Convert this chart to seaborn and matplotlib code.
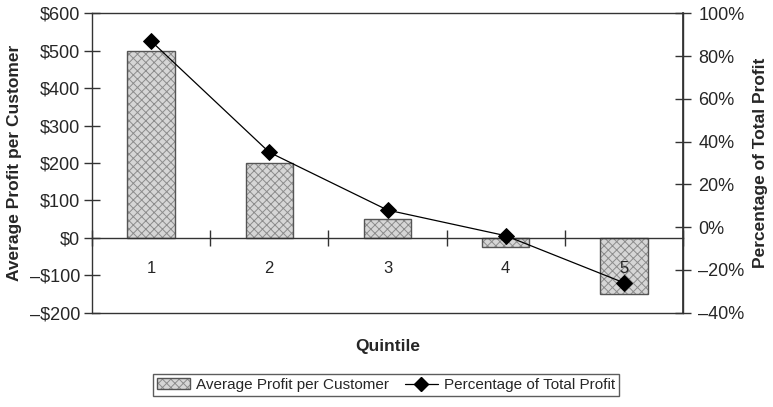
import numpy as np
import matplotlib
matplotlib.use("Agg")
import matplotlib.pyplot as plt
import seaborn as sns
from matplotlib.patches import Patch
from matplotlib.lines import Line2D
from matplotlib.colors import to_rgba
from matplotlib.ticker import FuncFormatter, FixedLocator

# Chart data
quintiles = ["1", "2", "3", "4", "5"]
avg_profit = [500, 200, 50, -25, -150]
pct_total_profit = [87, 35, 8, -4, -26]

sns.set_theme(style="white")
plt.rcParams["font.family"] = ["Liberation Sans", "DejaVu Sans"]
plt.rcParams["hatch.linewidth"] = 0.7

frame_color = "#333333"
bar_face = "#d6d6d6"
bar_edge = "#555555"
hatch_color = "#8c8c8c"
tick_fs = 13


def set_hatch(p):
    p.set_hatch("xxxx")
    try:
        p.set_hatchcolor(hatch_color)
    except AttributeError:
        p._hatch_color = to_rgba(hatch_color)


fig = plt.figure(figsize=(7.73, 4.07), dpi=100)
ax = fig.add_axes([92 / 773, 1 - 312.7 / 407, (683 - 92) / 773, (312.7 - 13.3) / 407])
ax.set_axisbelow(False)

sns.barplot(x=quintiles, y=avg_profit, ax=ax, color=bar_face, width=0.4,
            edgecolor=bar_edge, linewidth=1.0, saturation=1)
for p in ax.patches:
    set_hatch(p)

ax.set_ylim(-200, 600)
ax.set_yticks(np.arange(-200, 601, 100))
ax.yaxis.set_major_formatter(FuncFormatter(
    lambda v, _: ("\u2013$%d" % abs(v)) if v < 0 else "$%d" % v))
ax.tick_params(axis="y", direction="inout", length=11, width=1, color=frame_color,
               labelsize=tick_fs, pad=3, left=True)

# category axis crosses at zero
ax.spines["bottom"].set_position(("data", 0))
for s in ax.spines.values():
    s.set_color(frame_color)
    s.set_linewidth(1.0)
ax.plot([0, 1], [0, 0], transform=ax.transAxes, color=frame_color, lw=1.0, clip_on=False)

ax.xaxis.set_major_locator(FixedLocator(np.arange(-0.5, len(quintiles), 1.0)))
ax.xaxis.set_minor_locator(FixedLocator(np.arange(len(quintiles))))
ax.set_xticklabels([""] * (len(quintiles) + 1))
ax.set_xticklabels(quintiles, minor=True)
ax.tick_params(axis="x", which="major", direction="inout", length=11, width=1,
               color=frame_color, bottom=True)
ax.tick_params(axis="x", which="minor", length=0, pad=17, labelsize=12, bottom=True)
ax.set_xlim(-0.5, len(quintiles) - 0.5)

ax.set_xlabel("")
ax.set_ylabel("Average Profit per Customer", fontsize=12.5, fontweight="bold",
              va="center")
ax.yaxis.set_label_coords((15 - 92) / 591, 0.5)
fig.text(387.5 / 773, 1 - 346 / 407, "Quintile", ha="center", va="center",
         fontsize=12.5, fontweight="bold")

ax2 = ax.twinx()
sns.pointplot(x=quintiles, y=pct_total_profit, ax=ax2, color="black", markers="D",
              errorbar=None, linewidth=0.9, markersize=8)
ax2.set_xlim(-0.5, len(quintiles) - 0.5)
ax2.set_ylim(-40, 100)
ax2.set_yticks(np.arange(-40, 101, 20))
ax2.yaxis.set_major_formatter(FuncFormatter(
    lambda v, _: ("\u2013%d%%" % abs(v)) if v < 0 else "%d%%" % v))
ax2.tick_params(axis="y", direction="inout", length=12, width=1, color=frame_color,
                labelsize=tick_fs, pad=5, right=True)
for s in ax2.spines.values():
    s.set_visible(False)
ax2.spines["right"].set_visible(True)
ax2.spines["right"].set_color(frame_color)
ax2.set_xlabel("")
ax2.set_ylabel("Percentage of Total Profit", fontsize=12.5, fontweight="bold",
               rotation=90, va="center")
ax2.yaxis.set_label_coords((760 - 92) / 591, 0.5)

leg_patch = Patch(facecolor=bar_face, edgecolor=bar_edge, label="Average Profit per Customer")
set_hatch(leg_patch)
handles = [
    leg_patch,
    Line2D([], [], color="black", lw=0.9, marker="D", markersize=7,
           label="Percentage of Total Profit"),
]
leg = fig.legend(handles=handles, loc="center", bbox_to_anchor=(386 / 773, 1 - 385 / 407),
                 ncol=2, frameon=True, fancybox=False, fontsize=11, handlelength=2.2,
                 handleheight=0.7, columnspacing=1.0, handletextpad=0.4, borderpad=0.25)
leg.get_frame().set_edgecolor(frame_color)
leg.get_frame().set_linewidth(1.0)

fig.savefig("out.png", dpi=100)
